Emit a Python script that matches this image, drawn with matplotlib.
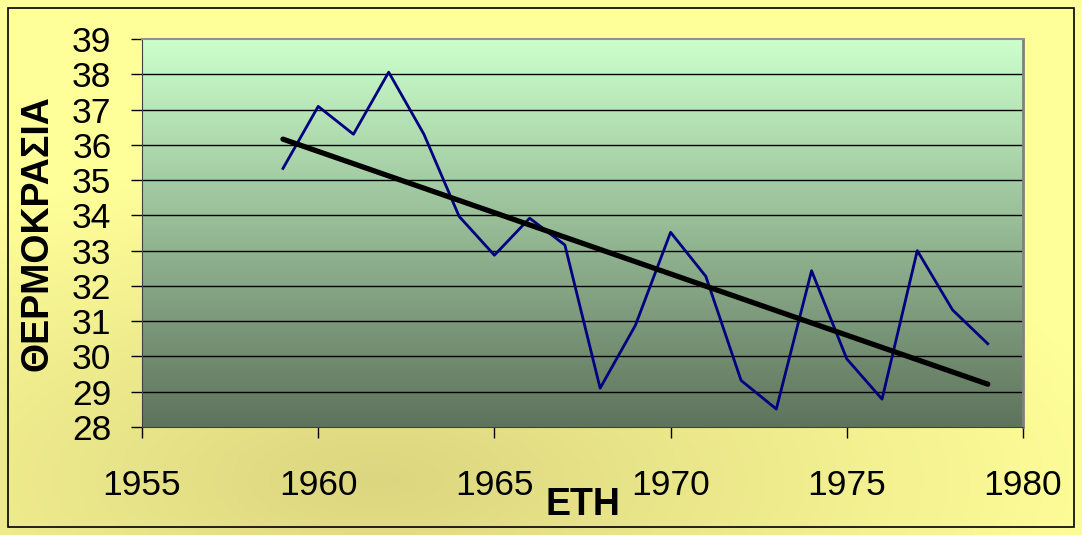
import matplotlib.pyplot as plt
import numpy as np
from matplotlib.colors import LinearSegmentedColormap
from matplotlib.patches import Rectangle

# yearly values
years = [1959, 1960, 1961, 1962, 1963, 1964, 1965, 1966, 1967, 1968, 1969,
         1970, 1971, 1972, 1973, 1974, 1975, 1976, 1977, 1978, 1979]
temps = [35.33, 37.09, 36.30, 38.06, 36.30, 33.97, 32.87, 33.92, 33.16, 29.10, 30.88,
         33.52, 32.27, 29.32, 28.51, 32.43, 29.93, 28.79, 33.00, 31.32, 30.36]
x_ticks = [1955, 1960, 1965, 1970, 1975, 1980]
y_ticks = list(range(28, 40))

plt.rcParams['font.family'] = ['Liberation Sans', 'DejaVu Sans']

fig = plt.figure(figsize=(10.82, 5.35), dpi=100)

# yellow background with a soft darker patch, like the office chart fill
bg = fig.add_axes([0, 0, 1, 1], zorder=-10)
gx, gy = np.meshgrid(np.linspace(0, 1, 300), np.linspace(0, 1, 150))
dist = np.sqrt(((gx - 0.35) / 0.7) ** 2 + ((gy - 0.1) / 0.6) ** 2)
bg_cmap = LinearSegmentedColormap.from_list("bgy", ["#DCD680", "#FFFF99"])
bg.imshow(np.clip(dist, 0, 1), cmap=bg_cmap, aspect='auto', origin='lower',
          extent=[0, 1, 0, 1])
bg.set_xlim(0, 1)
bg.set_ylim(0, 1)
bg.axis('off')
bg.add_patch(Rectangle((8 / 1082, 8 / 535), 1 - 16 / 1082, 1 - 16 / 535,
                       fill=False, edgecolor='black', linewidth=1.2))

ax = fig.add_axes([142 / 1082, 1 - 427 / 535, 881 / 1082, 388 / 535])

# plot-area gradient, light green at top to dark grey-green at bottom
grad_cmap = LinearSegmentedColormap.from_list("grn", ["#5E735C", "#CCFFCC"])
ax.imshow(np.linspace(0, 1, 256).reshape(-1, 1), cmap=grad_cmap, aspect='auto',
          origin='lower', extent=[1955, 1980, 28, 39], zorder=0)

for yv in y_ticks[1:-1]:
    ax.axhline(yv, color='black', linewidth=1.0, zorder=1)

ax.plot(years, temps, color='#000080', linewidth=2.0, zorder=3)

# linear trend line
coef = np.polyfit(years, temps, 1)
trend_x = np.array([years[0], years[-1]])
ax.plot(trend_x, np.polyval(coef, trend_x), color='black', linewidth=3.8,
        solid_capstyle='round', zorder=4)

ax.set_xlim(1955, 1980)
ax.set_ylim(28, 39)
ax.set_xticks(x_ticks)
ax.set_yticks(y_ticks)
ax.tick_params(axis='x', direction='out', length=8, width=1, pad=22, labelsize=25.5)
ax.tick_params(axis='y', direction='out', length=8, width=1, pad=14, labelsize=25.5)
ax.spines['top'].set_color('#909090')
ax.spines['top'].set_linewidth(1.5)
ax.spines['right'].set_color('#808080')
ax.spines['right'].set_linewidth(2)
ax.spines['left'].set_color('#404040')
ax.spines['bottom'].set_color('#404040')

fig.text(38 / 1082, 1 - 233 / 535, "ΘΕΡΜΟΚΡΑΣΙΑ", rotation=90, fontsize=27,
         fontweight='bold', ha='center', va='center')
fig.text(583 / 1082, 1 - 505 / 535, "ΕΤΗ", fontsize=27, fontweight='bold',
         ha='center', va='center')

plt.savefig("out.png", dpi=100)
